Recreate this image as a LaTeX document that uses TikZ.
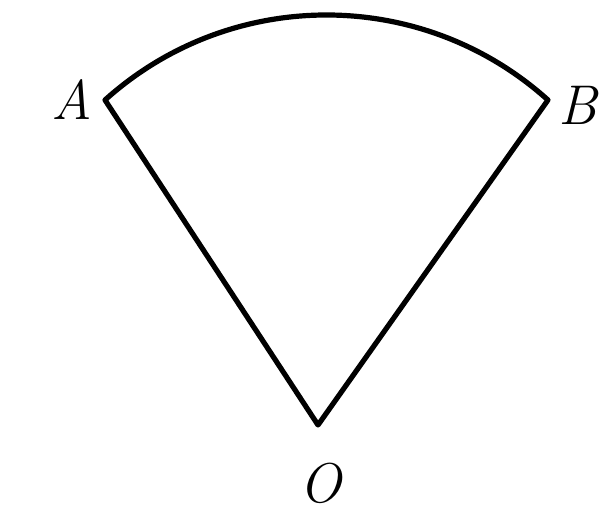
\documentclass[tikz,border=0pt]{standalone}
\begin{document}
\begin{tikzpicture}[x=0.5pt,y=0.5pt,
  edge/.style={line width=2.6pt,line join=round,line cap=round},
  lbl/.style={font=\fontsize{28}{30}\selectfont\itshape,inner sep=0pt}]
\useasboundingbox (0,0) rectangle (603,527);
\coordinate (O) at (318,102);
\coordinate (A) at (105,427);
\coordinate (B) at (548,427);
\draw[edge] (O) -- (A) arc[start angle=132,end angle=48,radius=165.5pt] -- cycle;
\node[lbl] (la) at (72,427) {A};
\node[lbl] (lb) at (578,422) {B};
\node[lbl] (lo) at (320,44) {O};
\end{tikzpicture}
\end{document}
